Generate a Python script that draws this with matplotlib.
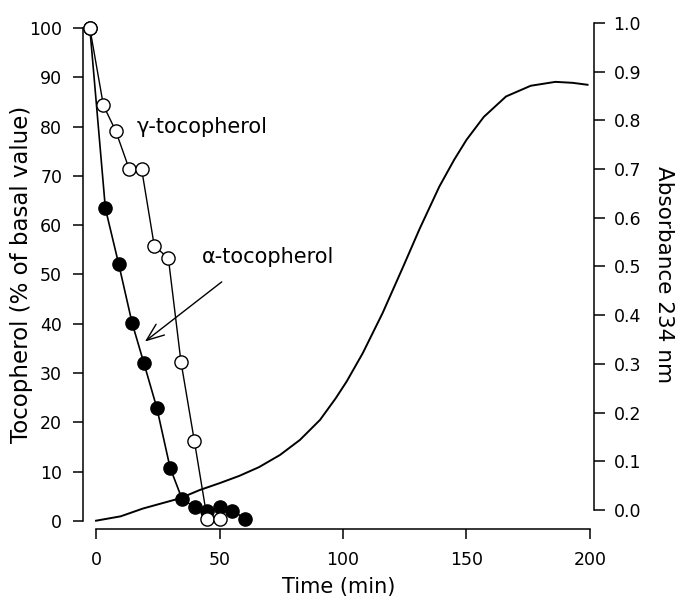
import matplotlib
matplotlib.use("Agg")
import matplotlib.pyplot as plt

# ---- data ----
gamma_t = [-2.5, 3, 8, 13.5, 18.5, 23.6, 29.3, 34.4, 39.8, 45, 50]
gamma_v = [100, 84.3, 79.1, 71.3, 71.3, 55.8, 53.3, 32.3, 16.3, 0.5, 0.5]

alpha_t = [-2.5, 3.8, 9.2, 14.6, 19.4, 24.6, 30, 34.9, 40.1, 45.1, 50.1, 55.2, 60.3]
alpha_v = [100, 63.4, 52.1, 40.2, 32.0, 23.0, 10.8, 4.4, 2.8, 2.1, 2.8, 2.1, 0.5]

abs_t = [0, 10, 19, 34, 42, 50, 58, 66, 74.5, 82.6, 90.7, 97, 101.5, 108,
         116, 124.4, 131, 139, 145, 150, 157, 166, 176, 186, 193, 199]
abs_v = [-0.022, -0.013, 0.003, 0.024, 0.041, 0.055, 0.070, 0.088, 0.113,
         0.144, 0.185, 0.229, 0.264, 0.322, 0.404, 0.500, 0.577, 0.664,
         0.719, 0.760, 0.807, 0.849, 0.871, 0.879, 0.877, 0.873]

left_ticks = [0, 10, 20, 30, 40, 50, 60, 70, 80, 90, 100]
right_ticks = [0.0, 0.1, 0.2, 0.3, 0.4, 0.5, 0.6, 0.7, 0.8, 0.9, 1.0]
x_ticks = [0, 50, 100, 150, 200]

plt.rcParams['font.family'] = ['DejaVu Sans']

W, H = 679, 602
fig = plt.figure(figsize=(W / 100, H / 100), dpi=100)
L, R, B, T = 83, 594, 528.5, 20
ax = fig.add_axes([L / W, 1 - B / H, (R - L) / W, (B - T) / H])

ax.set_xlim((L - 96) / 2.47, (R - 96) / 2.47)
ax.set_ylim(-1.52, 101.62)

lw_sp = 1.1
for s in ['top', 'right']:
    ax.spines[s].set_visible(False)
ax.spines['left'].set_bounds(0, 100)
ax.spines['bottom'].set_bounds(0, 200)
for s in ['left', 'bottom']:
    ax.spines[s].set_linewidth(lw_sp)

ax.set_xticks(x_ticks)
ax.set_xticklabels([str(v) for v in x_ticks])
ax.set_yticks(left_ticks)
ax.set_yticklabels([str(v) for v in left_ticks])
ax.tick_params(axis='y', direction='out', length=7, width=lw_sp, pad=8, labelsize=12.5)
ax.tick_params(axis='x', direction='out', length=7, width=lw_sp, pad=9, labelsize=12.5)

ax.set_xlabel('Time (min)', fontsize=15, labelpad=6)
ax.set_ylabel('Tocopherol (% of basal value)', fontsize=16.5, labelpad=-3)

ax.plot(alpha_t, alpha_v, color='black', lw=1.2, marker='o', markersize=9.5,
        markerfacecolor='black', markeredgecolor='black', zorder=3)
ax.plot(gamma_t, gamma_v, color='black', lw=1.0, marker='o', markersize=9.5,
        markerfacecolor='white', markeredgecolor='black', markeredgewidth=1.0,
        zorder=4)

ax.text(16.6, 78.7, 'γ-tocopherol', fontsize=15, va='baseline', ha='left')
ax.text(42.9, 52.3, 'α-tocopherol', fontsize=15, va='baseline', ha='left')
ax.annotate('', xy=(19.8, 36.4), xytext=(50.9, 48.5),
            arrowprops=dict(arrowstyle='->,head_length=0.9,head_width=0.35',
                            color='black', lw=1.0, mutation_scale=14,
                            shrinkA=0, shrinkB=0))

ax2 = ax.twinx()
ax2.set_ylim(-0.038, 1.006)
for s in ['top', 'left', 'bottom']:
    ax2.spines[s].set_visible(False)
ax2.spines['right'].set_bounds(0, 1.0)
ax2.spines['right'].set_linewidth(lw_sp)
ax2.set_yticks(right_ticks)
ax2.set_yticklabels([f'{v:.1f}' for v in right_ticks])
ax2.tick_params(axis='y', direction='out', length=8, width=lw_sp, pad=6, labelsize=12.5)
ax2.set_ylabel('Absorbance 234 nm', fontsize=15.5, rotation=270, labelpad=24)

ax2.plot(abs_t, abs_v, color='black', lw=1.4, solid_joinstyle='round')

fig.savefig('out.png', dpi=100)
